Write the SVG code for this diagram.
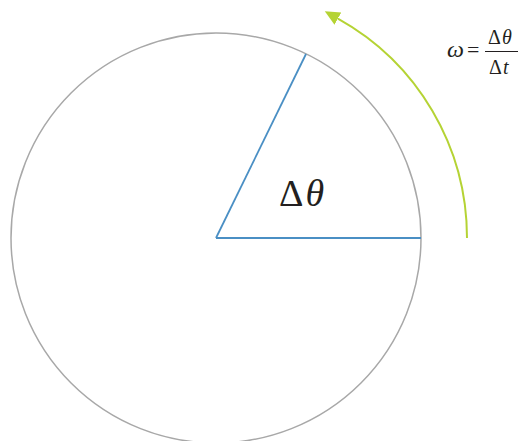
<svg xmlns="http://www.w3.org/2000/svg" width="521" height="441" viewBox="0 0 521 441">
<style>
.circ{fill:none;stroke:#a8a8a8;stroke-width:1.5}
.rad{stroke:#4a8fc4;stroke-width:1.8;fill:none}
.arc{fill:none;stroke:#b5d334;stroke-width:2}
.t{font-family:"Liberation Serif","Times New Roman",serif;fill:#231f20}
.i{font-style:italic}
.f{font-size:20px}
</style>
<defs>
<marker id="ah" markerUnits="userSpaceOnUse" markerWidth="16" markerHeight="16" viewBox="0 0 16 14" refX="0" refY="7" orient="auto">
<path d="M0,0 L15,7 L0,14 z" fill="#b5d334"/>
</marker>
</defs>
<g id="circle">
<circle class="circ" cx="216" cy="238" r="205"/>
</g>
<g id="connectors">
<line class="rad" x1="216" y1="238" x2="421" y2="238"/>
<line class="rad" x1="216" y1="238" x2="306" y2="54"/>
<path class="arc" d="M467,238 A251,251 0 0 0 337.9,18.6" marker-end="url(#ah)"/>
</g>
<g id="angle-label">
<text class="t" x="279" y="206" font-size="38">Δ<tspan class="i" dx="2">θ</tspan></text>
</g>
<g id="formula">
<text class="t i" x="447" y="57" font-size="24">ω</text>
<text class="t" x="467" y="57" font-size="22">=</text>
<text class="t f" x="488" y="44">Δ<tspan class="i" dx="1">θ</tspan></text>
<line x1="485" y1="51.5" x2="518" y2="51.5" stroke="#231f20" stroke-width="1"/>
<text class="t f" x="489" y="74">Δ<tspan class="i" dx="1">t</tspan></text>
</g>
</svg>
